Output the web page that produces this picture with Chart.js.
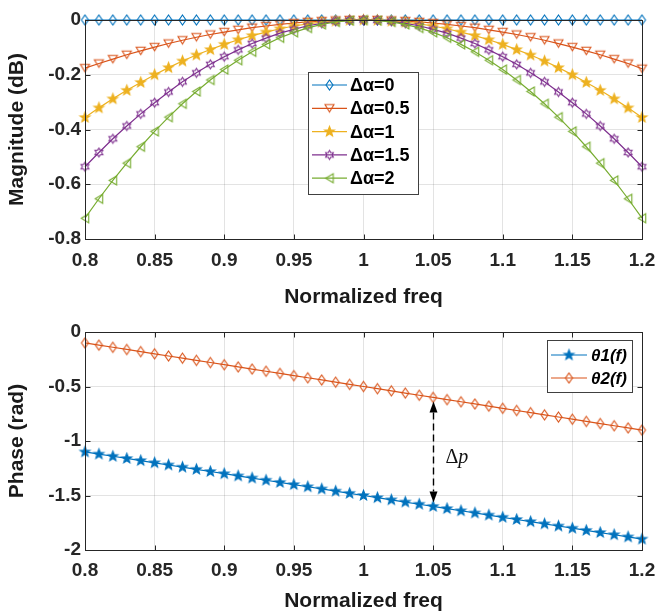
<!DOCTYPE html>
<html>
<head>
<meta charset="utf-8">
<script src="https://cdn.jsdelivr.net/npm/chart.js@4.4.1/dist/chart.umd.min.js"></script>
<style>
  html, body { margin: 0; padding: 0; background: #fff; }
  #wrap { position: relative; width: 655px; height: 614px; }
  canvas { position: absolute; left: 0; }
  #magChart { top: 0; }
  #phaseChart { top: 310px; }
</style>
</head>
<body>
<div id="wrap">
  <canvas id="magChart" width="655" height="310"></canvas>
  <canvas id="phaseChart" width="655" height="304"></canvas>
</div>
<script>
// ---- data ----
const freq = [0.80, 0.81, 0.82, 0.83, 0.84, 0.85, 0.86, 0.87, 0.88, 0.89, 0.90,
              0.91, 0.92, 0.93, 0.94, 0.95, 0.96, 0.97, 0.98, 0.99, 1.00,
              1.01, 1.02, 1.03, 1.04, 1.05, 1.06, 1.07, 1.08, 1.09, 1.10,
              1.11, 1.12, 1.13, 1.14, 1.15, 1.16, 1.17, 1.18, 1.19, 1.20];

const freqTicks = [0.8, 0.85, 0.9, 0.95, 1, 1.05, 1.1, 1.15, 1.2];
const magTicks = [0, -0.2, -0.4, -0.6, -0.8];
const phaseTicks = [0, -0.5, -1, -1.5, -2];

const magLabels = ['Δα=0', 'Δα=0.5', 'Δα=1', 'Δα=1.5', 'Δα=2'];

// Magnitude (dB) for each Δα
const magDa0 = [0, 0, 0, 0, 0, 0, 0, 0, 0, 0, 0,
                0, 0, 0, 0, 0, 0, 0, 0, 0, 0,
                0, 0, 0, 0, 0, 0, 0, 0, 0, 0,
                0, 0, 0, 0, 0, 0, 0, 0, 0, 0];
const magDa05 = [-0.176, -0.159, -0.143, -0.127, -0.113, -0.099, -0.086, -0.074, -0.063, -0.053, -0.044,
                 -0.036, -0.028, -0.022, -0.016, -0.011, -0.007, -0.004, -0.002, 0, 0,
                 0, -0.002, -0.004, -0.007, -0.011, -0.016, -0.022, -0.028, -0.036, -0.044,
                 -0.053, -0.063, -0.074, -0.086, -0.099, -0.113, -0.127, -0.143, -0.159, -0.178];
const magDa1 = [-0.356, -0.321, -0.288, -0.257, -0.228, -0.200, -0.174, -0.150, -0.128, -0.108, -0.089,
                -0.072, -0.057, -0.044, -0.032, -0.022, -0.014, -0.008, -0.004, -0.001, 0,
                -0.001, -0.004, -0.008, -0.014, -0.022, -0.032, -0.044, -0.057, -0.072, -0.089,
                -0.108, -0.128, -0.150, -0.174, -0.200, -0.228, -0.257, -0.288, -0.321, -0.356];
const magDa15 = [-0.536, -0.484, -0.434, -0.387, -0.343, -0.302, -0.263, -0.226, -0.193, -0.162, -0.134,
                 -0.109, -0.086, -0.066, -0.048, -0.034, -0.021, -0.012, -0.005, -0.001, 0,
                 -0.001, -0.005, -0.012, -0.021, -0.034, -0.048, -0.066, -0.086, -0.109, -0.134,
                 -0.162, -0.193, -0.226, -0.263, -0.302, -0.343, -0.387, -0.434, -0.484, -0.536];
const magDa2 = [-0.724, -0.653, -0.586, -0.523, -0.463, -0.407, -0.355, -0.306, -0.261, -0.219, -0.181,
                -0.147, -0.116, -0.089, -0.065, -0.045, -0.029, -0.016, -0.007, -0.002, 0,
                -0.002, -0.007, -0.016, -0.029, -0.045, -0.065, -0.089, -0.116, -0.147, -0.181,
                -0.219, -0.261, -0.306, -0.355, -0.407, -0.463, -0.523, -0.586, -0.653, -0.724];

const phaseLabels = ['θ1(f)', 'θ2(f)'];

// Phase (rad)
const theta1 = [-1.10, -1.12, -1.14, -1.16, -1.18, -1.20, -1.22, -1.24, -1.26, -1.28, -1.30,
                -1.32, -1.34, -1.36, -1.38, -1.40, -1.42, -1.44, -1.46, -1.48, -1.50,
                -1.52, -1.54, -1.56, -1.58, -1.60, -1.62, -1.64, -1.66, -1.68, -1.70,
                -1.72, -1.74, -1.76, -1.78, -1.80, -1.82, -1.84, -1.86, -1.88, -1.90];
const theta2 = [-0.10, -0.12, -0.14, -0.16, -0.18, -0.20, -0.22, -0.24, -0.26, -0.28, -0.30,
                -0.32, -0.34, -0.36, -0.38, -0.40, -0.42, -0.44, -0.46, -0.48, -0.50,
                -0.52, -0.54, -0.56, -0.58, -0.60, -0.62, -0.64, -0.66, -0.68, -0.70,
                -0.72, -0.74, -0.76, -0.78, -0.80, -0.82, -0.84, -0.86, -0.88, -0.90];

const deltaAt = 1.05;   // frequency where the phase gap is marked

// ---- styling ----
const C = { blue: '#0072BD', orange: '#D95319', yellow: '#EDB120', purple: '#7E2F8E', green: '#77AC30' };
const FONT = "'Liberation Sans', Arial, Helvetica, sans-serif";
const AXIS_COLOR = '#262626';
const GRID_COLOR = 'rgba(38,38,38,0.13)';

// Marker glyphs rendered once into small canvases, used as point styles
function marker(shape, color, w, h) {
  const pad = 2;
  const c = document.createElement('canvas');
  c.width = Math.ceil(w + pad * 2);
  c.height = Math.ceil(h + pad * 2);
  const g = c.getContext('2d');
  g.translate(c.width / 2, c.height / 2);
  g.strokeStyle = color;
  g.fillStyle = color;
  g.lineWidth = 1.1;
  g.lineJoin = 'miter';
  const rx = w / 2, ry = h / 2;
  g.beginPath();
  let filled = false;
  if (shape === 'diamond') {
    g.moveTo(0, -ry); g.lineTo(rx, 0); g.lineTo(0, ry); g.lineTo(-rx, 0);
  } else if (shape === 'triDown') {
    g.moveTo(-rx, -ry); g.lineTo(rx, -ry); g.lineTo(0, ry);
  } else if (shape === 'triLeft') {
    g.moveTo(-rx, 0); g.lineTo(rx, -ry); g.lineTo(rx, ry);
  } else if (shape === 'pentagram') {
    for (let i = 0; i < 10; i++) {
      const r = i % 2 ? rx * 0.42 : rx;
      const a = -Math.PI / 2 + i * Math.PI / 5;
      const px = r * Math.cos(a), py = r * Math.sin(a);
      i ? g.lineTo(px, py) : g.moveTo(px, py);
    }
    filled = true;
  } else if (shape === 'hexagram') {
    for (let i = 0; i < 12; i++) {
      const r = i % 2 ? rx * 0.577 : rx;
      const a = -Math.PI / 2 + i * Math.PI / 6;
      const px = r * Math.cos(a), py = r * Math.sin(a);
      i ? g.lineTo(px, py) : g.moveTo(px, py);
    }
  }
  g.closePath();
  if (filled) g.fill();
  g.stroke();
  return c;
}

const markers = {
  diamondBlue: marker('diamond', C.blue, 7, 10),
  triDownOrange: marker('triDown', C.orange, 9, 7.5),
  starYellow: marker('pentagram', C.yellow, 10.5, 10.5),
  hexPurple: marker('hexagram', C.purple, 9, 9),
  triLeftGreen: marker('triLeft', C.green, 7.5, 9),
  starBlue: marker('pentagram', C.blue, 10.5, 10.5),
  diamondOrange: marker('diamond', C.orange, 7, 10)
};

function toPoints(values) {
  return freq.map((f, i) => ({ x: f, y: values[i] }));
}

function fmt(v) {
  return String(Number(Number(v).toFixed(2)));
}

// Box around the axes with inward tick marks on all four sides
const axesBox = {
  id: 'axesBox',
  afterDatasetsDraw(chart) {
    const { ctx, chartArea: a, scales } = chart;
    const L = Math.round(a.left) + 0.5, R = Math.round(a.right) + 0.5;
    const T = Math.round(a.top) + 0.5, B = Math.round(a.bottom) + 0.5;
    const tl = 5;
    ctx.save();
    ctx.strokeStyle = AXIS_COLOR;
    ctx.lineWidth = 1;
    ctx.beginPath();
    scales.x.ticks.forEach(t => {
      const px = Math.round(scales.x.getPixelForValue(t.value)) + 0.5;
      ctx.moveTo(px, B); ctx.lineTo(px, B - tl);
      ctx.moveTo(px, T); ctx.lineTo(px, T + tl);
    });
    scales.y.ticks.forEach(t => {
      const py = Math.round(scales.y.getPixelForValue(t.value)) + 0.5;
      ctx.moveTo(L, py); ctx.lineTo(L + tl, py);
      ctx.moveTo(R, py); ctx.lineTo(R - tl, py);
    });
    ctx.stroke();
    ctx.strokeRect(L, T, R - L, B - T);
    ctx.restore();
  }
};

// Framed legend with a line sample and marker for each series
const boxLegend = {
  id: 'boxLegend',
  afterDraw(chart, args, o) {
    const { ctx } = chart;
    ctx.save();
    ctx.fillStyle = '#fff';
    ctx.fillRect(o.x, o.y, o.w, o.h);
    ctx.strokeStyle = '#404040';
    ctx.lineWidth = 1;
    ctx.strokeRect(o.x + 0.5, o.y + 0.5, o.w, o.h);
    chart.data.datasets.forEach((ds, i) => {
      const cy = o.y + o.firstRow + i * o.rowGap;
      ctx.strokeStyle = ds.borderColor;
      ctx.lineWidth = ds.borderWidth;
      ctx.beginPath();
      ctx.moveTo(o.x + o.lineStart, cy);
      ctx.lineTo(o.x + o.lineEnd, cy);
      ctx.stroke();
      const m = ds.pointStyle;
      const mx = o.x + (o.lineStart + o.lineEnd) / 2;
      ctx.drawImage(m, mx - m.width / 2, cy - m.height / 2);
      ctx.fillStyle = '#000';
      ctx.font = o.font;
      ctx.textBaseline = 'middle';
      ctx.textAlign = 'left';
      ctx.fillText(ds.label, o.x + o.textX, cy + 1);
    });
    ctx.restore();
  }
};

// Double-headed dashed arrow showing the phase gap, with its label
const deltaArrow = {
  id: 'deltaArrow',
  afterDatasetsDraw(chart, args, o) {
    if (!o || !o.enabled) return;
    const { ctx, scales: { x, y } } = chart;
    const idx = freq.indexOf(deltaAt);
    const px = Math.round(x.getPixelForValue(deltaAt)) + 0.5;
    const yTop = y.getPixelForValue(theta2[idx]) + 4;
    const yBot = y.getPixelForValue(theta1[idx]) - 4;
    const headL = 11, headW = 4;
    ctx.save();
    ctx.strokeStyle = '#000';
    ctx.fillStyle = '#000';
    ctx.lineWidth = 1.4;
    ctx.setLineDash([7, 4]);
    ctx.beginPath();
    ctx.moveTo(px, yTop + headL);
    ctx.lineTo(px, yBot - headL);
    ctx.stroke();
    ctx.setLineDash([]);
    ctx.beginPath();
    ctx.moveTo(px, yTop); ctx.lineTo(px - headW, yTop + headL); ctx.lineTo(px + headW, yTop + headL);
    ctx.closePath(); ctx.fill();
    ctx.beginPath();
    ctx.moveTo(px, yBot); ctx.lineTo(px - headW, yBot - headL); ctx.lineTo(px + headW, yBot - headL);
    ctx.closePath(); ctx.fill();
    // label: upright Δ, italic p
    const ly = (yTop + yBot) / 2 + 6;
    const lx = px + 12;
    ctx.textBaseline = 'middle';
    ctx.textAlign = 'left';
    ctx.fillStyle = '#111';
    ctx.font = "20px 'Liberation Serif', 'Times New Roman', serif";
    ctx.fillText('Δ', lx, ly);
    const dw = ctx.measureText('Δ').width;
    ctx.font = "italic 20px 'Liberation Serif', 'Times New Roman', serif";
    ctx.fillText('p', lx + dw, ly);
    ctx.restore();
  }
};

function axisOptions(cfg) {
  return {
    x: {
      type: 'linear',
      min: 0.8, max: 1.2,
      afterBuildTicks: s => { s.ticks = freqTicks.map(v => ({ value: v })); },
      afterFit: s => { s.height = cfg.xHeight; s.paddingLeft = 0; s.paddingRight = 0; },
      grid: { color: GRID_COLOR, drawTicks: false, lineWidth: 1 },
      border: { display: false },
      ticks: {
        callback: v => fmt(v), color: AXIS_COLOR, padding: cfg.xPad,
        maxRotation: 0, autoSkip: false,
        font: { family: FONT, size: 19, weight: 'bold' }
      },
      title: {
        display: true, text: 'Normalized freq', color: '#1a1a1a',
        padding: { top: 0, bottom: 0 },
        font: { family: FONT, size: 21, weight: 'bold' }
      }
    },
    y: {
      type: 'linear',
      min: cfg.yMin, max: 0,
      afterBuildTicks: s => { s.ticks = cfg.yTicks.map(v => ({ value: v })); },
      afterFit: s => { s.width = 85; s.paddingTop = 0; s.paddingBottom = 0; },
      grid: { color: GRID_COLOR, drawTicks: false, lineWidth: 1 },
      border: { display: false },
      ticks: {
        callback: v => fmt(v), color: AXIS_COLOR, padding: 4, autoSkip: false,
        font: { family: FONT, size: 19, weight: 'bold' }
      },
      title: {
        display: true, text: cfg.yTitle, color: '#1a1a1a',
        padding: { top: 5, bottom: 0 },
        font: { family: FONT, size: 21, weight: 'bold' }
      }
    }
  };
}

// ---- magnitude chart ----
const magSeries = [
  { label: magLabels[0], values: magDa0, color: C.blue, mark: markers.diamondBlue },
  { label: magLabels[1], values: magDa05, color: C.orange, mark: markers.triDownOrange },
  { label: magLabels[2], values: magDa1, color: C.yellow, mark: markers.starYellow },
  { label: magLabels[3], values: magDa15, color: C.purple, mark: markers.hexPurple },
  { label: magLabels[4], values: magDa2, color: C.green, mark: markers.triLeftGreen }
];

new Chart(document.getElementById('magChart'), {
  type: 'line',
  data: {
    datasets: magSeries.map((s, i) => ({
      label: s.label,
      data: toPoints(s.values),
      borderColor: s.color,
      backgroundColor: s.color,
      borderWidth: 1.2,
      pointStyle: s.mark,
      pointRadius: 5,
      tension: 0,
      fill: false,
      clip: false,
      order: magSeries.length - 1 - i
    }))
  },
  options: {
    responsive: false,
    animation: false,
    events: [],
    layout: { padding: { left: 0, right: 13, top: 20, bottom: 0 } },
    scales: axisOptions({ xHeight: 71, xPad: 10, yMin: -0.8, yTicks: magTicks, yTitle: 'Magnitude (dB)' }),
    plugins: {
      legend: { display: false },
      tooltip: { enabled: false },
      boxLegend: {
        x: 308, y: 72, w: 110, h: 122,
        firstRow: 13, rowGap: 23.3,
        lineStart: 4, lineEnd: 39, textX: 42,
        font: `bold 18px ${FONT}`
      }
    }
  },
  plugins: [axesBox, boxLegend]
});

// ---- phase chart ----
const phaseSeries = [
  { label: phaseLabels[0], values: theta1, color: C.blue, mark: markers.starBlue },
  { label: phaseLabels[1], values: theta2, color: C.orange, mark: markers.diamondOrange }
];

new Chart(document.getElementById('phaseChart'), {
  type: 'line',
  data: {
    datasets: phaseSeries.map(s => ({
      label: s.label,
      data: toPoints(s.values),
      borderColor: s.color,
      backgroundColor: s.color,
      borderWidth: 1.2,
      pointStyle: s.mark,
      pointRadius: 5,
      tension: 0,
      fill: false,
      clip: false
    }))
  },
  options: {
    responsive: false,
    animation: false,
    events: [],
    layout: { padding: { left: 0, right: 13, top: 22, bottom: 0 } },
    scales: axisOptions({ xHeight: 64, xPad: 9, yMin: -2, yTicks: phaseTicks, yTitle: 'Phase (rad)' }),
    plugins: {
      legend: { display: false },
      tooltip: { enabled: false },
      deltaArrow: { enabled: true },
      boxLegend: {
        x: 547, y: 30, w: 85, h: 52,
        firstRow: 15, rowGap: 23,
        lineStart: 4, lineEnd: 40, textX: 44,
        font: `italic bold 17px ${FONT}`
      }
    }
  },
  plugins: [axesBox, deltaArrow, boxLegend]
});
</script>
</body>
</html>
